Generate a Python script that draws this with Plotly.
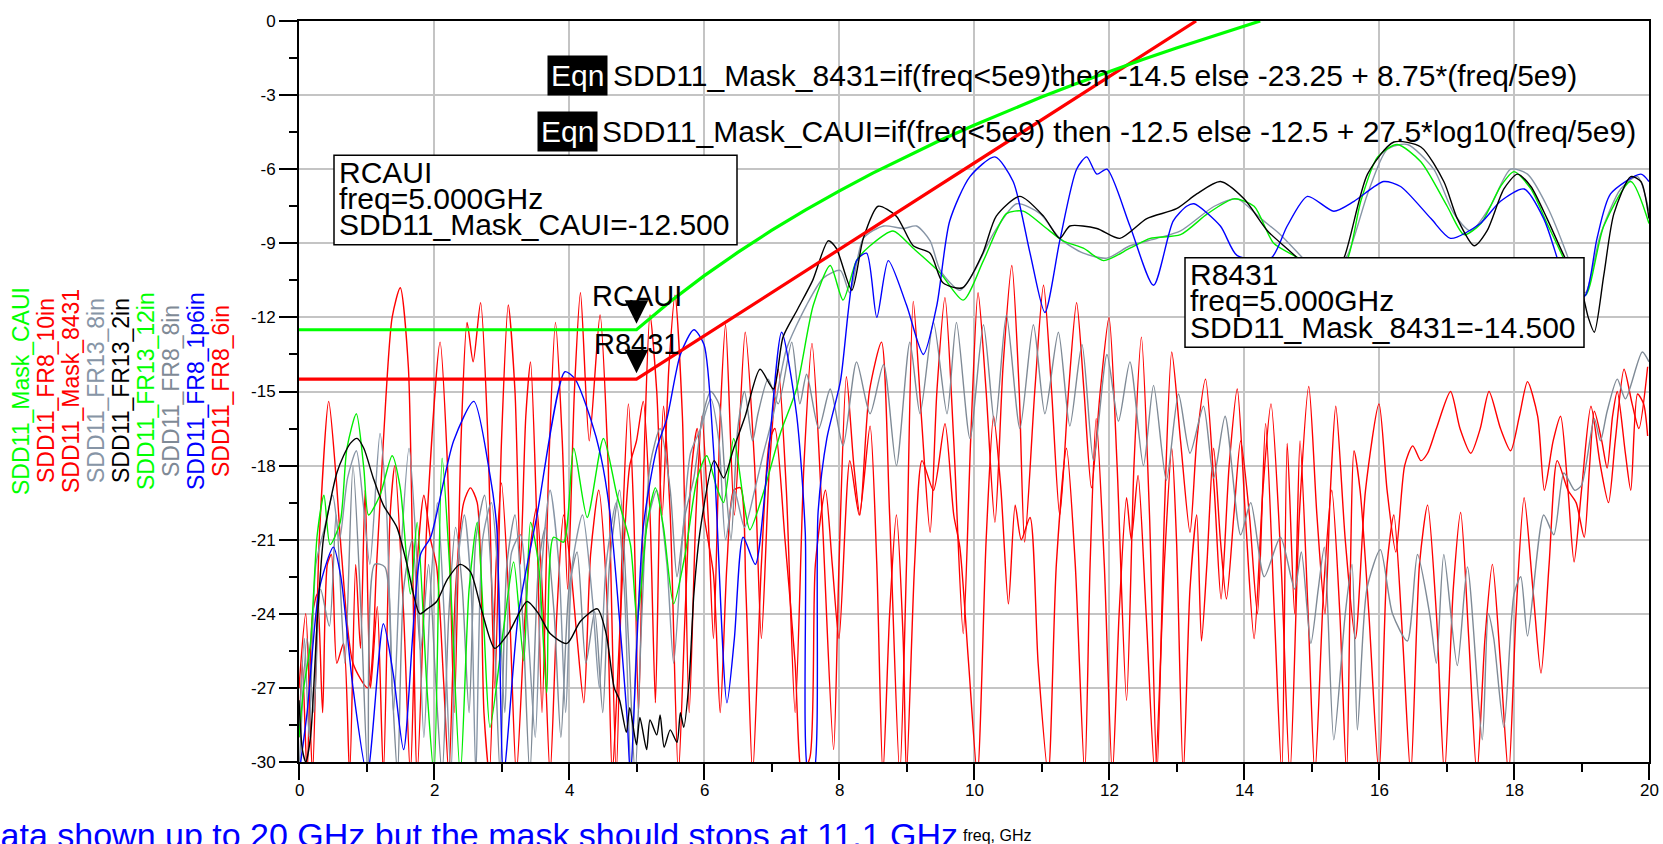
import plotly.graph_objects as go

# ---------------- data (freq GHz, dB) ----------------
mask_caui_freq = [0, 5, 5.5, 6, 6.5, 7, 7.5, 8, 8.5, 9, 9.5, 10, 10.5, 11, 11.5, 12, 12.5, 13, 13.5, 14, 14.24]
mask_caui_db = [-12.5, -12.5, -11.36, -10.32, -9.37, -8.48, -7.66, -6.89, -6.16, -5.48, -4.83, -4.22,
                -3.64, -3.08, -2.55, -2.04, -1.56, -1.09, -0.64, -0.2, 0.0]
mask_8431_freq = [0, 5, 13.29]
mask_8431_db = [-14.5, -14.5, 0.0]

marker_freq = 5.0
marker_caui_db = -12.5
marker_8431_db = -14.5

fr13_2in = [(0, -27.5), (0.05, -29.5), (0.1, -30), (0.17, -29), (0.27, -24.3), (0.36, -21), (0.46, -19.5),
            (0.56, -18.3), (0.66, -17.6), (0.76, -17.1), (0.86, -16.9), (0.96, -17.3), (1.1, -18.5), (1.25, -19.6),
            (1.45, -20.5), (1.6, -22), (1.79, -24.0), (1.9, -23.8), (2.04, -23.5), (2.2, -22.6), (2.39, -22.0),
            (2.54, -22.3), (2.7, -23.8), (2.9, -25.4), (3.1, -24.8), (3.38, -23.5), (3.55, -24.0), (3.72, -24.8),
            (3.97, -25.2), (4.17, -24.3), (4.42, -23.8), (4.55, -24.8), (4.67, -27.0), (4.75, -27.5), (4.85, -28.8),
            (4.9, -27.8), (5.0, -29.3), (5.05, -28.2), (5.15, -29.5), (5.2, -28.3), (5.3, -28.9), (5.35, -28.1),
            (5.41, -29.4), (5.5, -28.7), (5.6, -29.2), (5.65, -28.0), (5.7, -28.6), (5.78, -26.7), (5.85, -23.2),
            (5.95, -20.5), (6.15, -17.8), (6.29, -18.5), (6.44, -17.3), (6.61, -16.0), (6.83, -14.1), (7.03, -14.9),
            (7.17, -12.8), (7.38, -11.7), (7.61, -10.5), (7.84, -8.9), (7.96, -9.2), (8.19, -10.9), (8.36, -8.8),
            (8.58, -7.5), (8.85, -7.9), (9.1, -9.1), (9.35, -9.4), (9.54, -10.6), (9.83, -10.8), (10.13, -9.4),
            (10.33, -7.9), (10.68, -7.1), (11.03, -7.9), (11.27, -8.8), (11.42, -8.3), (11.82, -8.4), (12.16, -8.8),
            (12.56, -8.0), (13.0, -7.6), (13.3, -7.0), (13.65, -6.5), (14.0, -7.2), (14.35, -8.5), (14.79, -9.6),
            (15.05, -10.5), (15.25, -10.6), (15.48, -9.6), (15.83, -6.2), (16.22, -4.9), (16.62, -5.1),
            (16.96, -6.5), (17.16, -8.0), (17.41, -9.1), (17.6, -8.5), (17.85, -6.8), (18.05, -6.2), (18.25, -6.7),
            (18.49, -8.0), (18.74, -9.5), (18.99, -10.8), (19.1, -12.0), (19.19, -12.6), (19.33, -10.3),
            (19.48, -7.8), (19.73, -6.3), (19.88, -6.5), (20.0, -8.0)]

fr13_12in = [(0, -29), (0.07, -27.0), (0.17, -25.2), (0.27, -20.8), (0.37, -19.2), (0.46, -21.2), (0.61, -20.3),
             (0.71, -17.3), (0.85, -15.9), (0.96, -18.1), (1.03, -20.0), (1.2, -19.2), (1.38, -17.6), (1.5, -18.9),
             (1.65, -23.2), (1.75, -20.3), (1.9, -27.2), (2.0, -30.5), (2.12, -17.7), (2.24, -22.5), (2.39, -30.5),
             (2.52, -23), (2.64, -20.3), (2.74, -24.6), (2.83, -28.6), (3.03, -24.6), (3.18, -21.9), (3.33, -25.9),
             (3.43, -20.3), (3.55, -22), (3.67, -27.2), (3.77, -20.9), (3.92, -21.1), (4.07, -17.3), (4.27, -20.1),
             (4.51, -16.9), (4.71, -19.2), (4.91, -21.2), (5.01, -24.3), (5.16, -20.3), (5.28, -18.9), (5.4, -20.5),
             (5.55, -23.6), (5.72, -21.6), (5.9, -18.5), (6.04, -17.6), (6.19, -18.9), (6.29, -19.5), (6.44, -16.9),
             (6.59, -19.5), (6.68, -20.6), (6.88, -19.1), (7.13, -16.7), (7.37, -14.9), (7.62, -11.5), (7.87, -9.9),
             (8.06, -11.3), (8.26, -9.7), (8.46, -9.1), (8.8, -8.5), (9.1, -9.2), (9.5, -10.2), (9.84, -11.3),
             (10.14, -9.7), (10.48, -7.8), (10.73, -7.7), (11.03, -8.3), (11.32, -8.9), (11.62, -9.2), (11.92, -9.7),
             (12.31, -9.2), (12.61, -8.8), (13.06, -8.65), (13.46, -7.8), (13.85, -7.2), (14.15, -7.5), (14.44, -9.0),
             (14.84, -9.65), (15.1, -10.3), (15.3, -10.3), (15.53, -9.65), (15.73, -7.3), (15.98, -5.5),
             (16.27, -5.0), (16.62, -5.7), (17.01, -7.5), (17.26, -8.65), (17.51, -8.2), (17.8, -6.7), (18.0, -6.1),
             (18.25, -6.8), (18.49, -8.2), (18.74, -9.65), (18.9, -10.8), (19.06, -11.1), (19.33, -8.3),
             (19.73, -6.5), (20.0, -8.2)]

fr13_8in = [(0, -29), (0.08, -25), (0.15, -29), (0.25, -22), (0.38, -20.5), (0.5, -19.2), (0.6, -21), (0.72, -18.5),
            (0.85, -17.4), (0.95, -19.5), (1.05, -22), (1.2, -16.7), (1.3, -20), (1.4, -28), (1.5, -22), (1.63, -17.3),
            (1.75, -22), (1.85, -29), (1.95, -23), (2.05, -19.5), (2.15, -24), (2.25, -30.5), (2.35, -22),
            (2.45, -20), (2.55, -23), (2.62, -30.5), (2.72, -21), (2.85, -19.5), (2.95, -22.5), (3.05, -28),
            (3.15, -21.5), (3.28, -20.8), (3.4, -25), (3.5, -29), (3.6, -22), (3.72, -19), (3.85, -22), (3.95, -28),
            (4.05, -22), (4.2, -20), (4.35, -23.5), (4.45, -27), (4.55, -22), (4.7, -19.5), (4.82, -23),
            (4.92, -30.5), (5.02, -24), (5.15, -20.5), (5.3, -19), (5.45, -22), (5.55, -26), (5.68, -21),
            (5.8, -17.5), (5.95, -16.5), (6.1, -15.3), (6.22, -17), (6.32, -21), (6.45, -19), (6.6, -20.5),
            (6.75, -19), (6.88, -17.5), (7.03, -15.9), (7.22, -13.3), (7.52, -11.5), (7.77, -10.4), (8.02, -10.1),
            (8.16, -11.0), (8.36, -8.8), (8.66, -8.3), (8.95, -8.4), (9.15, -8.3), (9.35, -8.9), (9.5, -10.1),
            (9.79, -10.9), (9.99, -10.2), (10.29, -8.6), (10.63, -7.4), (10.98, -7.8), (11.27, -8.8), (11.62, -9.4),
            (11.97, -9.6), (12.31, -9.1), (12.71, -8.8), (13.06, -8.5), (13.56, -7.5), (13.9, -7.2), (14.25, -8.0),
            (14.54, -8.65), (14.89, -9.65), (15.1, -10.2), (15.3, -10.2), (15.53, -9.5), (15.83, -7.0),
            (16.12, -5.2), (16.42, -5.0), (16.81, -6.0), (17.11, -7.8), (17.36, -8.5), (17.65, -7.5), (17.95, -6.0),
            (18.2, -6.2), (18.49, -7.5), (18.79, -9.5), (18.95, -10.8), (19.06, -11.0), (19.28, -8.65),
            (19.58, -6.8), (19.83, -6.3), (20.0, -7.7)]

fr8_8in = [(0, -30.5), (0.12, -25), (0.22, -28), (0.32, -23), (0.45, -24.5), (0.55, -20), (0.68, -26), (0.8, -18),
           (0.92, -24), (1.02, -30.5), (1.12, -22), (1.27, -22.1), (1.38, -27), (1.46, -30.5), (1.55, -23),
           (1.68, -21), (1.8, -25.5), (1.92, -22), (2.02, -26.5), (2.12, -30.5), (2.22, -24), (2.32, -20.5),
           (2.42, -23), (2.52, -28), (2.62, -21), (2.75, -19.2), (2.88, -24), (2.98, -30.5), (3.08, -22), (3.2, -20),
           (3.32, -24.5), (3.42, -30.5), (3.55, -22), (3.65, -20.5), (3.78, -24), (3.88, -29), (4.0, -23),
           (4.12, -21.5), (4.25, -26), (4.38, -23.9), (4.5, -28), (4.6, -22), (4.75, -19), (4.88, -25),
           (4.98, -30.5), (5.08, -24), (5.2, -18), (5.35, -16.5), (5.5, -19), (5.6, -22.5), (5.72, -20),
           (5.85, -18.5), (5.98, -16), (6.1, -15), (6.22, -15.5), (6.3, -18), (6.4, -21), (6.5, -16.5), (6.6, -15),
           (6.72, -17), (6.8, -15.9), (6.95, -14.5), (7.1, -15.5), (7.3, -13.0), (7.42, -15.5), (7.52, -14.3),
           (7.7, -16.5), (7.87, -14.9), (8.06, -17.2), (8.26, -13.8), (8.46, -15.9), (8.66, -13.9), (8.85, -18.0),
           (9.05, -13.0), (9.2, -15.9), (9.4, -12.2), (9.6, -15.9), (9.74, -12.2), (9.94, -16.9), (10.14, -12.3),
           (10.31, -16.4), (10.48, -11.9), (10.68, -16.5), (10.88, -12.3), (11.05, -15.9), (11.25, -12.6),
           (11.42, -16.4), (11.6, -13.1), (11.77, -17.8), (11.97, -13.5), (12.14, -16.2), (12.31, -13.8),
           (12.51, -18.0), (12.66, -14.75), (12.85, -18.6), (13.03, -15.1), (13.2, -17.5), (13.4, -15.6),
           (13.55, -18.5), (13.72, -16), (13.95, -20.8), (14.1, -19.5), (14.3, -22.5), (14.54, -20.9),
           (14.75, -23), (14.85, -21.5), (14.99, -25.2), (15.1, -23), (15.19, -21.3), (15.33, -29.1), (15.5, -24),
           (15.6, -22), (15.68, -28.7), (15.82, -23), (16.02, -21.4), (16.2, -24), (16.42, -25.1), (16.57, -21.6),
           (16.75, -24), (16.85, -26), (16.96, -21.6), (17.16, -26.1), (17.31, -22.1), (17.53, -29.1),
           (17.62, -24), (17.7, -25), (17.85, -28.6), (18.0, -23.2), (18.1, -22.5), (18.2, -24.9), (18.44, -20.0),
           (18.59, -20.8), (18.74, -18.3), (18.9, -19), (19.0, -18.8), (19.19, -16.1), (19.28, -17),
           (19.38, -15.8), (19.53, -14.5), (19.65, -15.3), (19.9, -13.4), (20, -13.8)]

fr8_1p6in = [(0, -30.5), (0.12, -28), (0.3, -23), (0.51, -21.3), (0.62, -22.5), (0.8, -27), (1.01, -30.5),
             (1.25, -24.4), (1.4, -26.5), (1.55, -29.5), (1.8, -21.6), (1.95, -20.9), (2.29, -17.0), (2.59, -15.4),
             (2.83, -18.4), (2.93, -20.5), (3.03, -30.5), (3.25, -24), (3.52, -20.1), (3.94, -14.2), (4.09, -14.5),
             (4.32, -16.1), (4.47, -17.6), (4.61, -20.0), (4.86, -28.2), (4.91, -30.5), (5.1, -20.5), (5.3, -17.3),
             (5.45, -16.1), (5.65, -13.5), (5.85, -12.5), (6.0, -13.1), (6.14, -17.3), (6.34, -27.6), (6.45, -25),
             (6.58, -20.9), (6.76, -22.0), (6.93, -18.3), (7.15, -12.6), (7.37, -15.9), (7.5, -20.7), (7.55, -30.5),
             (7.62, -30.5), (7.69, -19.9), (7.82, -16.9), (8.02, -14.6), (8.26, -9.7), (8.41, -9.4), (8.56, -12.0),
             (8.73, -9.7), (9.0, -11.5), (9.25, -13.5), (9.45, -11.5), (9.64, -8.1), (9.94, -6.3), (10.31, -5.5),
             (10.58, -6.5), (10.83, -9.4), (11.05, -11.8), (11.27, -8.9), (11.52, -6.0), (11.67, -5.5),
             (11.82, -6.2), (11.97, -6.0), (12.31, -8.3), (12.66, -10.7), (12.95, -8.1), (13.15, -7.5),
             (13.26, -7.4), (13.65, -8.3), (13.9, -9.5), (14.4, -9.6), (14.64, -8.3), (14.94, -7.1), (15.33, -7.7),
             (15.63, -7.3), (16.07, -6.5), (16.32, -6.7), (16.77, -8.0), (17.06, -8.8), (17.5, -8.2), (17.8, -7.3),
             (18.15, -6.8), (18.44, -8.0), (18.64, -9.6), (18.85, -11.5), (19.06, -11.1), (19.23, -8.8),
             (19.43, -7.0), (19.88, -6.2), (20.0, -6.5)]

fr8_6in = [(0.0, -27), (0.1, -24), (0.2, -30.5), (0.3, -21), (0.44, -15.4), (0.55, -18.5), (0.63, -21.6), (0.8, -26),
           (1.02, -27), (1.15, -22), (1.25, -17), (1.38, -12), (1.5, -10.8), (1.62, -14), (1.75, -30.5), (1.9, -20),
           (2.09, -13.0), (2.2, -18), (2.3, -28), (2.4, -17), (2.49, -12.2), (2.58, -13.8), (2.69, -11.4),
           (2.8, -17), (2.9, -27), (3.0, -17), (3.1, -11.5), (3.2, -15), (3.28, -22), (3.36, -16), (3.43, -13.8),
           (3.52, -20), (3.6, -28), (3.7, -18), (3.8, -12.2), (3.9, -17), (3.98, -23), (4.08, -15), (4.17, -11.0),
           (4.3, -17), (4.46, -11.9), (4.58, -18), (4.7, -30.5), (4.8, -20), (4.88, -15.5), (4.96, -20),
           (5.03, -28), (5.12, -17), (5.2, -11.9), (5.3, -15), (5.38, -20), (5.48, -14), (5.57, -11.1), (5.68, -16),
           (5.78, -28), (5.88, -20), (5.97, -16), (6.06, -20), (6.14, -25), (6.24, -16), (6.32, -12.3), (6.45, -20),
           (6.61, -12.6), (6.75, -18), (6.85, -25), (6.97, -18), (7.1, -14.1), (7.22, -19), (7.35, -28),
           (7.48, -18), (7.6, -13.05), (7.75, -20), (7.92, -29.5), (8.0, -22), (8.11, -14.4), (8.22, -18),
           (8.31, -20), (8.45, -15), (8.63, -13.0), (8.75, -20), (8.9, -30.5), (9.0, -22), (9.1, -11.35),
           (9.22, -16), (9.35, -20.7), (9.45, -15), (9.57, -11.2), (9.7, -17), (9.84, -24.8), (9.95, -17),
           (10.06, -11.0), (10.18, -15), (10.31, -20.3), (10.43, -14), (10.56, -9.9), (10.67, -15), (10.75, -21.1),
           (10.9, -15), (11.03, -10.7), (11.15, -15), (11.27, -20.0), (11.4, -15), (11.52, -11.4), (11.63, -15),
           (11.74, -18.9), (11.87, -15), (12.0, -12.0), (12.12, -18), (12.26, -27.5), (12.37, -18), (12.48, -12.8),
           (12.6, -20), (12.71, -30.5), (12.82, -20), (12.93, -13.4), (13.06, -17), (13.2, -20.7), (13.3, -17),
           (13.43, -14.5), (13.56, -19), (13.66, -23.4), (13.78, -18), (13.9, -14.9), (14.02, -20), (14.15, -25),
           (14.28, -19), (14.4, -15.5), (14.55, -22), (14.68, -30.5), (14.82, -20), (14.96, -14.8), (15.08, -20),
           (15.2, -24), (15.28, -19), (15.36, -15.6), (15.5, -21), (15.65, -25), (15.8, -19), (16.0, -15.5),
           (16.12, -19), (16.25, -21.5), (16.38, -18), (16.5, -17.2), (16.62, -17.8), (16.72, -17.5),
           (16.85, -16.5), (17.06, -15.0), (17.2, -16.5), (17.36, -17.5), (17.5, -16.5), (17.63, -15.0),
           (17.8, -16.5), (17.95, -17.4), (18.08, -16), (18.2, -14.6), (18.35, -16), (18.45, -19), (18.58, -17),
           (18.69, -16.0), (18.8, -19), (18.89, -21.9), (19.0, -19), (19.14, -15.6), (19.28, -18), (19.4, -19.5),
           (19.5, -17), (19.63, -14.1), (19.75, -15.5), (19.85, -16.5), (19.98, -14.0)]

fr8_10in = [(0.0, -29), (0.05, -26), (0.12, -30.5), (0.2, -24), (0.27, -23.2), (0.35, -28), (0.42, -22), (0.48, -21.6),
            (0.56, -26), (0.66, -25.2), (0.75, -30.5), (0.84, -22), (0.91, -25.4), (0.98, -19), (1.06, -27.0),
            (1.16, -23.7), (1.25, -30.5), (1.35, -20), (1.42, -18), (1.55, -24), (1.65, -30.5), (1.75, -22),
            (1.85, -19.2), (1.95, -21), (2.04, -22.1), (2.14, -26.6), (2.22, -30.5), (2.32, -23), (2.44, -19.5),
            (2.54, -18.9), (2.64, -19.5), (2.74, -28), (2.82, -30.5), (2.92, -22), (3.0, -18.7), (3.12, -24),
            (3.22, -30.5), (3.35, -24), (3.44, -21), (3.52, -19.7), (3.62, -24), (3.72, -30.5), (3.82, -24),
            (3.92, -20), (4.02, -22), (4.12, -25), (4.22, -27.6), (4.32, -21.6), (4.44, -19), (4.56, -23.2),
            (4.64, -30.5), (4.71, -27.2), (4.8, -22), (4.9, -18), (5.0, -17), (5.1, -15.4), (5.2, -20), (5.28, -27.6),
            (5.34, -20), (5.4, -15.6), (5.5, -20), (5.62, -30.5), (5.72, -24), (5.82, -18), (5.9, -16.5), (6.0, -20),
            (6.14, -22.4), (6.24, -28), (6.34, -22), (6.44, -19), (6.54, -18.9), (6.62, -23), (6.72, -30.5),
            (6.85, -22), (6.97, -17), (7.05, -16.5), (7.2, -21), (7.35, -26), (7.45, -30.5), (7.57, -29.8),
            (7.65, -22), (7.8, -19), (7.9, -22), (8.0, -25), (8.16, -17.8), (8.3, -20), (8.46, -16.4), (8.56, -22),
            (8.65, -30.5), (8.75, -24), (8.85, -20), (8.95, -25), (9.0, -30.5), (9.12, -22), (9.23, -17.8),
            (9.4, -19), (9.57, -16.3), (9.7, -20), (9.79, -21.3), (9.92, -26), (10.05, -30.5), (10.18, -21),
            (10.29, -16.0), (10.4, -19), (10.51, -23.6), (10.61, -19.6), (10.7, -21), (10.83, -20.1), (10.95, -26),
            (11.1, -30.5), (11.22, -22), (11.37, -17.3), (11.5, -22), (11.64, -30.5), (11.72, -22), (11.81, -16.1),
            (11.93, -22), (12.05, -30.5), (12.15, -24), (12.26, -19.3), (12.33, -21), (12.43, -18.4), (12.55, -24),
            (12.68, -30.5), (12.82, -22), (12.93, -17.3), (13.0, -21), (13.1, -30.5), (13.2, -23), (13.3, -20),
            (13.37, -25.1), (13.45, -22), (13.55, -17.3), (13.65, -21), (13.74, -23.4), (13.85, -20), (13.95, -17),
            (14.08, -20), (14.2, -24), (14.32, -16.3), (14.45, -24), (14.56, -30.5), (14.64, -17.1), (14.75, -24),
            (14.83, -17.0), (14.95, -24), (15.05, -30.5), (15.18, -23), (15.3, -19), (15.42, -24), (15.52, -30.5),
            (15.63, -17.4), (15.72, -19), (15.85, -24), (16.0, -30.5), (16.12, -22), (16.22, -20), (16.35, -25),
            (16.47, -30.5), (16.6, -22), (16.72, -19.6), (16.85, -24), (16.97, -30.5), (17.1, -23), (17.21, -19.9),
            (17.33, -25), (17.45, -30.5), (17.57, -25), (17.68, -22.0), (17.8, -26), (17.92, -30.5), (18.03, -24),
            (18.15, -19.3), (18.28, -23), (18.4, -26.4), (18.52, -22), (18.64, -17.8), (18.8, -19), (18.92, -19.5),
            (19.04, -20.9), (19.12, -18), (19.19, -15.8), (19.3, -17), (19.38, -18.1), (19.46, -16), (19.53, -15.0),
            (19.65, -17.5), (19.73, -19), (19.83, -15.1), (19.92, -15.5), (19.98, -16.8)]

legend_names = ["SDD11_Mask_CAUI", "SDD11_FR8_10in", "SDD11_Mask_8431", "SDD11_FR13_8in", "SDD11_FR13_2in",
                "SDD11_FR13_12in", "SDD11_FR8_8in", "SDD11_FR8_1p6in", "SDD11_FR8_6in"]
legend_colors = ["#00ff00", "#ff0000", "#ff0000", "#8795a6", "#000000", "#00ff00", "#7f8a96", "#0000ff", "#ff0000"]

x_tick_vals = [0, 2, 4, 6, 8, 10, 12, 14, 16, 18, 20]
x_tick_text = ["0", "2", "4", "6", "8", "10", "12", "14", "16", "18", "20"]
y_tick_vals = [0, -3, -6, -9, -12, -15, -18, -21, -24, -27, -30]
y_tick_text = ["0", "-3", "-6", "-9", "-12", "-15", "-18", "-21", "-24", "-27", "-30"]

eqn_8431 = "SDD11_Mask_8431=if(freq&lt;5e9)then -14.5 else -23.25 + 8.75*(freq/5e9)"
eqn_caui = "SDD11_Mask_CAUI=if(freq&lt;5e9) then -12.5 else -12.5 + 27.5*log10(freq/5e9)"
box_caui_lines = ["RCAUI", "freq=5.000GHz", "SDD11_Mask_CAUI=-12.500"]
box_8431_lines = ["R8431", "freq=5.000GHz", "SDD11_Mask_8431=-14.500"]
note_text = "Data shown up to 20 GHz but the mask should stops at 11.1 GHz"

# ---------------- layout geometry ----------------
W, H = 1663, 844
ML, MR, MT, MB = 299, 14, 17, 82
PW, PH = W - ML - MR, H - MT - MB
FONT = "Liberation Sans, Arial, Helvetica, sans-serif"
TXT = 30


def px(x):
    return (x - ML) / PW


def py(y):
    return (H - MB - y) / PH


def unzip(pts):
    return [p[0] for p in pts], [p[1] for p in pts]


fig = go.Figure()

data_series = [
    (fr8_10in, "SDD11_FR8_10in", "#ff0000"),
    (fr8_6in, "SDD11_FR8_6in", "#ff0000"),
    (fr8_8in, "SDD11_FR8_8in", "#7f8a96"),
    (fr13_8in, "SDD11_FR13_8in", "#8795a6"),
    (fr13_12in, "SDD11_FR13_12in", "#00ee00"),
    (fr8_1p6in, "SDD11_FR8_1p6in", "#0000ff"),
    (fr13_2in, "SDD11_FR13_2in", "#000000"),
]
for pts, name, color in data_series:
    xs, ys = unzip(pts)
    fig.add_trace(go.Scatter(x=xs, y=ys, mode="lines", name=name, hoverinfo="skip",
                             line=dict(color=color, width=1.4, shape="spline", smoothing=0.7)))

fig.add_trace(go.Scatter(x=mask_8431_freq, y=mask_8431_db, mode="lines", name="SDD11_Mask_8431",
                         line=dict(color="#ff0000", width=3.2), hoverinfo="skip"))
fig.add_trace(go.Scatter(x=mask_caui_freq, y=mask_caui_db, mode="lines", name="SDD11_Mask_CAUI",
                         line=dict(color="#00ff00", width=3.2), hoverinfo="skip"))

ann = []
# rotated legend on the left
leg_x = [21, 46, 71, 96, 121, 146, 171, 196, 221]
for name, color, lx in zip(legend_names, legend_colors, leg_x):
    ann.append(dict(xref="paper", yref="paper", x=px(lx), y=py(389), text=name, showarrow=False,
                    textangle=-90, xanchor="center", yanchor="middle",
                    font=dict(family=FONT, size=23, color=color)))

# x tick labels (placed below the ticks)
for v, t in zip(x_tick_vals, x_tick_text):
    ann.append(dict(xref="x", yref="paper", x=v, y=py(791), text=t, showarrow=False,
                    xanchor="center", yanchor="middle", font=dict(family=FONT, size=17, color="black")))

# equation labels
for (cx, cy, tx, txt) in [(577.5, 72, 611, eqn_8431), (567.5, 128, 600, eqn_caui)]:
    ann.append(dict(xref="paper", yref="paper", x=px(cx), y=py(cy), text="Eqn", showarrow=False,
                    xanchor="center", yanchor="middle", bgcolor="black", borderpad=3,
                    font=dict(family=FONT, size=TXT, color="white")))
    ann.append(dict(xref="paper", yref="paper", x=px(tx), y=py(cy), text=txt, showarrow=False,
                    xanchor="left", yanchor="middle", font=dict(family=FONT, size=TXT, color="black")))

# marker readout boxes
shapes = []
for (x0, y0, x1, y1, lines) in [(334, 152, 737, 242, box_caui_lines), (1185, 255, 1584, 345, box_8431_lines)]:
    shapes.append(dict(type="rect", xref="paper", yref="paper", x0=px(x0), x1=px(x1), y0=py(y0), y1=py(y1),
                       fillcolor="white", line=dict(color="black", width=1.5), layer="above"))
    for i, line in enumerate(lines):
        ann.append(dict(xref="paper", yref="paper", x=px(x0 + 3), y=py(y0 + 17 + 26.5 * i), text=line,
                        showarrow=False, xanchor="left", yanchor="middle",
                        font=dict(family=FONT, size=TXT, color="black")))

# marker triangles with labels
for val, label, ay in [(marker_caui_db, "RCAUI", -34), (marker_8431_db, "R8431", -35)]:
    ann.append(dict(xref="x", yref="y", x=marker_freq, y=val, text=label, showarrow=True,
                    arrowhead=2, arrowsize=2.35, arrowwidth=2, arrowcolor="black", standoff=6,
                    ax=0, ay=ay, font=dict(family=FONT, size=29, color="black")))

# footnote and axis title
ann.append(dict(xref="paper", yref="paper", x=px(960), y=py(835), text=note_text, showarrow=False,
                xanchor="right", yanchor="middle", font=dict(family=FONT, size=34, color="#0000ff")))
ann.append(dict(xref="paper", yref="paper", x=px(961), y=py(836), text="freq, GHz", showarrow=False,
                xanchor="left", yanchor="middle", font=dict(family=FONT, size=16, color="black")))

fig.update_layout(
    width=W, height=H, autosize=False,
    margin=dict(l=ML, r=MR, t=MT, b=MB, pad=0),
    paper_bgcolor="white", plot_bgcolor="white",
    showlegend=False,
    font=dict(family=FONT, size=17, color="black"),
    annotations=ann, shapes=shapes,
    xaxis=dict(range=[0, 20], tickmode="array", tickvals=x_tick_vals, ticktext=x_tick_text,
               showticklabels=False,
               ticks="outside", ticklen=16, tickwidth=1.5, tickcolor="black",
               showgrid=True, gridcolor="#c4c4c4", gridwidth=1.5, zeroline=False,
               showline=True, linecolor="black", linewidth=2, mirror=True,
               minor=dict(tickmode="linear", tick0=0, dtick=1, ticks="outside", ticklen=8,
                          tickwidth=1.5, tickcolor="black", showgrid=False)),
    yaxis=dict(range=[-30, 0], tickmode="array", tickvals=y_tick_vals, ticktext=y_tick_text,
               ticks="outside", ticklen=18, tickwidth=1.5, tickcolor="black",
               showgrid=True, gridcolor="#c4c4c4", gridwidth=1.5, zeroline=False,
               showline=True, linecolor="black", linewidth=2, mirror=True,
               tickfont=dict(family=FONT, size=17, color="black"),
               minor=dict(tickmode="linear", tick0=0, dtick=1.5, ticks="outside", ticklen=8,
                          tickwidth=1.5, tickcolor="black", showgrid=False)),
)

fig.write_html("out.html", config={"displayModeBar": False},
               post_script="document.body.style.margin='0px';document.body.style.overflow='hidden';")
